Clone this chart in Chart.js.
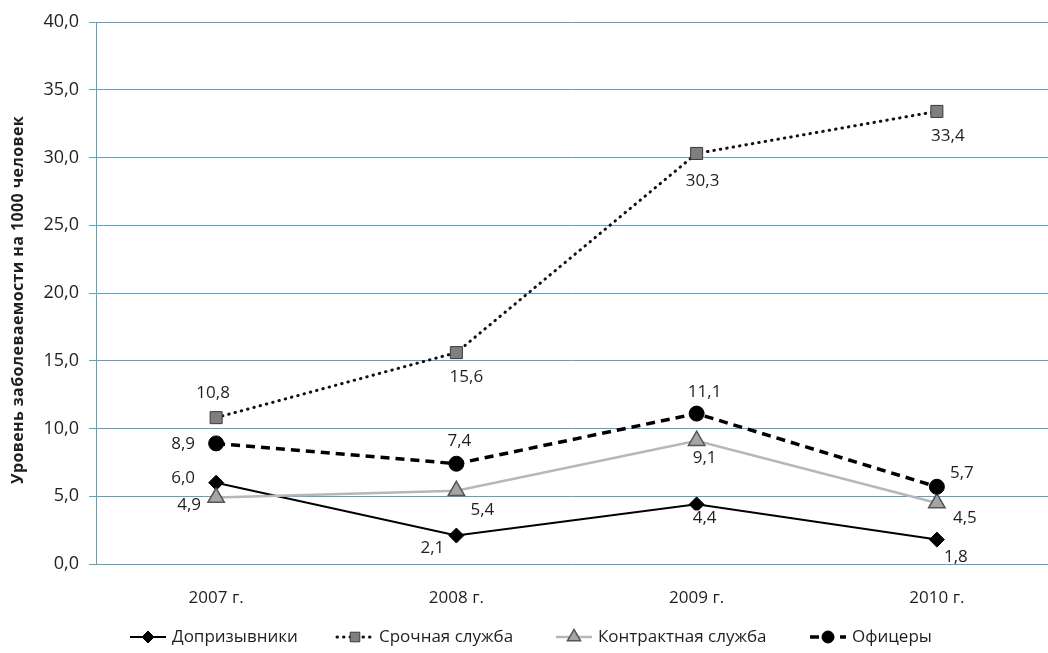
<!DOCTYPE html>
<html>
<head>
<meta charset="utf-8">
<script src="https://cdn.jsdelivr.net/npm/chart.js@4/dist/chart.umd.min.js"></script>
<style>
  html, body { margin: 0; padding: 0; background: #fff; overflow: hidden; }
  #c { display: block; }
</style>
</head>
<body>
<canvas id="c" width="1048" height="653"></canvas>
<script>
// Years on the category axis
const categories = ['2007 г.', '2008 г.', '2009 г.', '2010 г.'];

// Incidence per 1000 people, by group
const preConscripts = [6.0, 2.1, 4.4, 1.8];
const conscripts    = [10.8, 15.6, 30.3, 33.4];
const contractors   = [4.9, 5.4, 9.1, 4.5];
const officers      = [8.9, 7.4, 11.1, 5.7];

const seriesNames = ['Допризывники', 'Срочная служба', 'Контрактная служба', 'Офицеры'];

const yTicks = [0, 5, 10, 15, 20, 25, 30, 35, 40];
const yTitle = 'Уровень заболеваемости на 1000 человек';

const FONT = '"Open Sans", "DejaVu Sans", sans-serif';
const TEXT = '#1f1f1f';
const GRID = '#5e9fc4';

const fmt = v => v.toFixed(1).replace('.', ',');

// label placement around each marker (dx, dy in px), per series
const labelShift = [
  [[-33, -6], [-24, 12], [8, 13], [19, 17]],
  [[-3, -26], [10, 24], [6, 27], [11, 24]],
  [[-27, 7], [26, 18], [8, 16], [28, 14]],
  [[-33, 0], [3, -24], [8, -22], [25, -15]]
];

const datasets = [
  {
    label: seriesNames[0], data: preConscripts,
    borderColor: '#000', borderWidth: 2,
    pointStyle: 'rectRot', pointRadius: 7.5, pointBackgroundColor: '#000', pointBorderColor: '#000', pointBorderWidth: 1,
    order: 3
  },
  {
    label: seriesNames[1], data: conscripts,
    borderColor: '#111', borderWidth: 3, borderDash: [0.5, 6], borderCapStyle: 'round',
    pointStyle: 'rect', pointRadius: 8.5, pointBackgroundColor: '#7f7f7f', pointBorderColor: '#3a3a3a', pointBorderWidth: 1,
    order: 2
  },
  {
    label: seriesNames[2], data: contractors,
    borderColor: '#b7b7b7', borderWidth: 2.5,
    pointStyle: 'triangle', pointRadius: 9.5, pointBackgroundColor: '#a5a5a5', pointBorderColor: '#555', pointBorderWidth: 1.5,
    order: 1
  },
  {
    label: seriesNames[3], data: officers,
    borderColor: '#000', borderWidth: 3.5, borderDash: [9, 6],
    pointStyle: 'circle', pointRadius: 7.5, pointBackgroundColor: '#000', pointBorderColor: '#000', pointBorderWidth: 1,
    order: 0
  }
].map(d => Object.assign({ tension: 0, fill: false, pointHoverRadius: d.pointRadius }, d));

// the plot runs to the canvas edge, and the category band continues a little past it
const widenCategoryAxis = {
  id: 'widenCategoryAxis',
  afterLayout(chart) {
    const area = chart.chartArea;
    area.right = chart.width;
    area.width = area.right - area.left;
    const s = chart.scales.x;
    s.right = s.left + 961;
    s.width = 961;
    s.configure();
  }
};

// value labels with a white backing box
const valueLabels = {
  id: 'valueLabels',
  afterDatasetsDraw(chart) {
    const ctx = chart.ctx;
    ctx.save();
    ctx.font = '17px ' + FONT;
    ctx.textAlign = 'center';
    ctx.textBaseline = 'middle';
    chart.data.datasets.forEach((ds, si) => {
      const meta = chart.getDatasetMeta(si);
      meta.data.forEach((pt, i) => {
        const t = fmt(ds.data[i]);
        const x = pt.x + labelShift[si][i][0];
        const y = pt.y + labelShift[si][i][1];
        const w = ctx.measureText(t).width;
        ctx.fillStyle = 'rgba(255,255,255,0.9)';
        ctx.fillRect(x - w / 2 - 1, y - 7, w + 2, 14);
        ctx.fillStyle = TEXT;
        ctx.fillText(t, x, y + 1);
      });
    });
    ctx.restore();
  }
};

// rotated axis title and the legend row along the bottom
const extras = {
  id: 'extras',
  afterDraw(chart) {
    const ctx = chart.ctx;
    ctx.save();
    ctx.fillStyle = TEXT;
    ctx.font = 'bold 16px ' + FONT;
    ctx.letterSpacing = '0.4px';
    ctx.textAlign = 'center';
    ctx.textBaseline = 'middle';
    ctx.translate(18, 300);
    ctx.rotate(-Math.PI / 2);
    ctx.fillText(yTitle, 0, 0);
    ctx.restore();

    const items = [
      { x: 130, ds: 0 }, { x: 337, ds: 1 }, { x: 556, ds: 2 }, { x: 810, ds: 3 }
    ];
    const y = 637;
    ctx.save();
    items.forEach(it => {
      const d = chart.data.datasets[it.ds];
      ctx.strokeStyle = d.borderColor;
      ctx.lineWidth = d.borderWidth;
      ctx.setLineDash(d.borderDash || []);
      ctx.lineCap = d.borderCapStyle || 'butt';
      ctx.beginPath();
      ctx.moveTo(it.x, y);
      ctx.lineTo(it.x + 36, y);
      ctx.stroke();
      ctx.setLineDash([]);
      ctx.lineCap = 'butt';
      ctx.fillStyle = d.pointBackgroundColor;
      ctx.strokeStyle = d.pointBorderColor;
      ctx.lineWidth = d.pointBorderWidth;
      Chart.helpers.drawPoint(ctx, { pointStyle: d.pointStyle, radius: d.pointRadius * 0.8, borderWidth: d.pointBorderWidth }, it.x + 18, y);
      ctx.fillStyle = TEXT;
      ctx.font = '17px ' + FONT;
      ctx.textAlign = 'left';
      ctx.textBaseline = 'middle';
      ctx.fillText(d.label, it.x + 42, y);
    });
    ctx.restore();
  }
};

new Chart(document.getElementById('c'), {
  type: 'line',
  data: { labels: categories, datasets },
  plugins: [widenCategoryAxis, valueLabels, extras],
  options: {
    responsive: false,
    maintainAspectRatio: false,
    animation: false,
    devicePixelRatio: 1,
    layout: { padding: { top: 22, left: 0, right: 0, bottom: 0 } },
    plugins: { legend: { display: false }, tooltip: { enabled: false } },
    scales: {
      x: {
        offset: true,
        grid: { display: false, drawTicks: false },
        border: { display: false },
        ticks: { font: { family: FONT, size: 17 }, color: TEXT, padding: 24 },
        afterFit(s) { s.height = 89; }
      },
      y: {
        min: 0, max: 40,
        afterBuildTicks(s) { s.ticks = yTicks.map(v => ({ value: v })); },
        grid: { color: GRID, lineWidth: 1, tickLength: 7 },
        border: { display: true, color: GRID, width: 1 },
        ticks: { font: { family: FONT, size: 18 }, color: TEXT, padding: 10, callback: v => fmt(v) },
        afterFit(s) { s.width = 96; }
      }
    }
  }
});
</script>
</body>
</html>
